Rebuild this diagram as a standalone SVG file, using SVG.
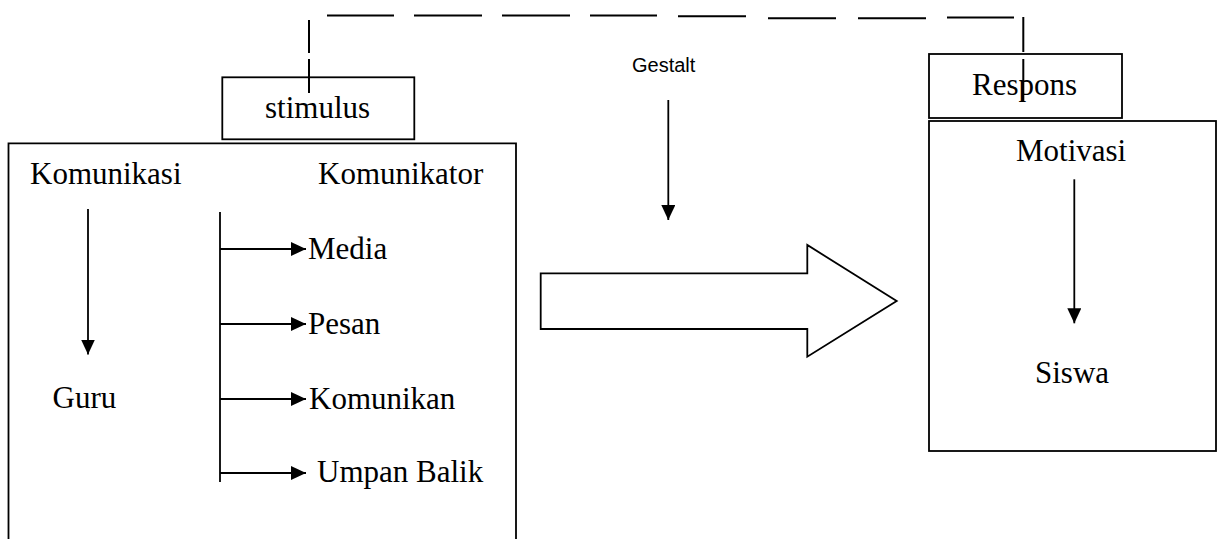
<svg xmlns="http://www.w3.org/2000/svg" width="1220" height="539" viewBox="0 0 1220 539">
<style>
.box{fill:none;stroke:#000;stroke-width:1.8}
.ln{fill:none;stroke:#000;stroke-width:1.8}
.dash{fill:none;stroke:#000;stroke-width:2}
.t{font-family:"Liberation Serif","Times New Roman",serif;font-size:31px;fill:#000}
.s{font-family:"Liberation Sans",Arial,sans-serif;font-size:20px;fill:#000}
</style>
<defs>
<marker id="ah" markerUnits="userSpaceOnUse" markerWidth="16" markerHeight="14" refX="15" refY="7" orient="auto">
<path d="M0,0 L15,7 L0,14 z" fill="#000"/>
</marker>
</defs>
<rect width="1220" height="539" fill="#fff"/>
<g id="stimulus"><rect class="box" x="222.3" y="77.3" width="192" height="62"/><text class="t" x="265" y="118">stimulus</text></g>
<g id="left-box"><path class="box" d="M8.5,545 V143.3 H516 V545"/></g>
<g id="komunikasi"><text class="t" x="30" y="184">Komunikasi</text></g>
<g id="komunikator"><text class="t" x="318" y="184">Komunikator</text></g>
<g id="guru"><text class="t" x="52.5" y="408">Guru</text></g>
<g id="media"><text class="t" x="308" y="259">Media</text></g>
<g id="pesan"><text class="t" x="308" y="334">Pesan</text></g>
<g id="komunikan"><text class="t" x="309" y="408.5">Komunikan</text></g>
<g id="umpan-balik"><text class="t" x="317" y="482">Umpan Balik</text></g>
<g id="gestalt"><text class="s" x="632" y="71.7">Gestalt</text></g>
<g id="big-arrow"><polygon class="box" points="540.7,273.3 807.3,273.3 807.3,245 896.7,301 807.3,356.7 807.3,329 540.7,329"/></g>
<g id="respons"><rect class="box" x="929" y="54" width="193" height="64"/><text class="t" x="972" y="95">Respons</text></g>
<g id="right-box"><rect class="box" x="929" y="121" width="287" height="330"/></g>
<g id="motivasi"><text class="t" x="1016" y="160.7">Motivasi</text></g>
<g id="siswa"><text class="t" x="1035" y="382.7">Siswa</text></g>
<g id="connectors">
<line class="ln" x1="88" y1="209" x2="88" y2="354.5" marker-end="url(#ah)"/>
<line class="ln" x1="220" y1="212" x2="220" y2="482"/>
<line class="ln" x1="220" y1="249" x2="306" y2="249" marker-end="url(#ah)"/>
<line class="ln" x1="220" y1="324" x2="306" y2="324" marker-end="url(#ah)"/>
<line class="ln" x1="220" y1="399" x2="306" y2="399" marker-end="url(#ah)"/>
<line class="ln" x1="220" y1="473" x2="306" y2="473" marker-end="url(#ah)"/>
<line class="ln" x1="668.3" y1="100" x2="668.3" y2="220" marker-end="url(#ah)"/>
<line class="ln" x1="1074.3" y1="179.3" x2="1074.3" y2="323.3" marker-end="url(#ah)"/>
<path class="dash" d="M309,20 V53 M309,59 V93 M327,15.5 H394 M414,15.5 H482 M502,15.5 H570 M590,15.5 H657 M678,16.3 H746 M768,18.3 H836 M858,18.3 H926 M947,17.5 H1014 M1023.3,17 V52 M1023.3,59 V102"/>
</g>
</svg>
